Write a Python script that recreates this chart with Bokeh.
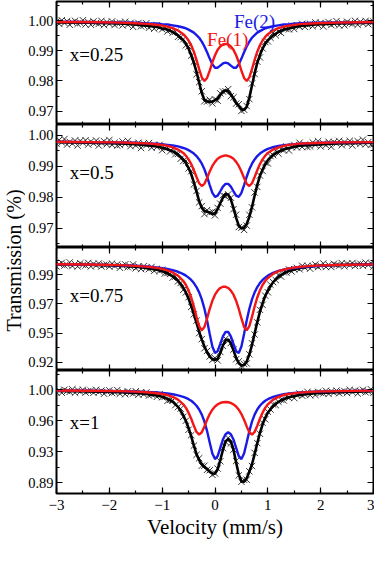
import math
from bokeh.plotting import figure
from bokeh.models import (Range1d, LinearAxis, FixedTicker, SingleIntervalTicker, Label,
                          CustomJSTickFormatter, GridBox)
from bokeh.embed import file_html
from bokeh.resources import INLINE

FONT = "Liberation Serif"

# ---------------- data ----------------
vel_fit = [-3.0, -2.4, -1.8, -1.5, -1.3, -1.1, -1.0, -0.9, -0.8, -0.7,
           -0.6, -0.55, -0.5, -0.45, -0.4, -0.35, -0.3, -0.25, -0.2, -0.15,
           -0.1, -0.05, 0.0, 0.05, 0.1, 0.15, 0.2, 0.25, 0.3, 0.35,
           0.4, 0.45, 0.5, 0.55, 0.6, 0.65, 0.7, 0.75, 0.8, 0.85,
           0.9, 0.95, 1.0, 1.1, 1.2, 1.3, 1.4, 1.6, 1.9, 2.3, 3.0]

vel_data = [-3.0, -2.95, -2.9, -2.85, -2.8, -2.75, -2.7, -2.65, -2.6, -2.55,
            -2.5, -2.45, -2.4, -2.35, -2.3, -2.25, -2.2, -2.15, -2.1, -2.05,
            -2.0, -1.95, -1.9, -1.85, -1.8, -1.75, -1.7, -1.65, -1.6, -1.55,
            -1.5, -1.45, -1.4, -1.35, -1.3, -1.25, -1.2, -1.15, -1.1, -1.05,
            -1.0, -0.95, -0.9, -0.85, -0.8, -0.75, -0.7, -0.65, -0.6, -0.55,
            -0.5, -0.45, -0.4, -0.35, -0.3, -0.25, -0.2, -0.15, -0.1, -0.05,
            0.0, 0.05, 0.1, 0.15, 0.2, 0.25, 0.3, 0.35, 0.4, 0.45,
            0.5, 0.55, 0.6, 0.65, 0.7, 0.75, 0.8, 0.85, 0.9, 0.95,
            1.0, 1.05, 1.1, 1.15, 1.2, 1.25, 1.3, 1.35, 1.4, 1.45,
            1.5, 1.55, 1.6, 1.65, 1.7, 1.75, 1.8, 1.85, 1.9, 1.95,
            2.0, 2.05, 2.1, 2.15, 2.2, 2.25, 2.3, 2.35, 2.4, 2.45,
            2.5, 2.55, 2.6, 2.65, 2.7, 2.75, 2.8, 2.85, 2.9, 2.95, 3.0]

# x = 0.25
fe1_x025 = [0.9995, 0.9995, 0.9993, 0.9991, 0.9989, 0.9986, 0.9983, 0.9980, 0.9975, 0.9967,
            0.9955, 0.9946, 0.9934, 0.9918, 0.9897, 0.9870, 0.9839, 0.9812, 0.9800, 0.9810,
            0.9834, 0.9862, 0.9885, 0.9903, 0.9914, 0.9921, 0.9923, 0.9921, 0.9914, 0.9903,
            0.9885, 0.9862, 0.9834, 0.9810, 0.9800, 0.9812, 0.9839, 0.9870, 0.9897, 0.9918,
            0.9934, 0.9946, 0.9955, 0.9967, 0.9975, 0.9980, 0.9983, 0.9988, 0.9991, 0.9993, 0.9995]
fe2_x025 = [0.9996, 0.9995, 0.9994, 0.9993, 0.9991, 0.9990, 0.9988, 0.9987, 0.9984, 0.9981,
            0.9977, 0.9974, 0.9970, 0.9965, 0.9960, 0.9952, 0.9943, 0.9930, 0.9914, 0.9895,
            0.9874, 0.9855, 0.9844, 0.9844, 0.9851, 0.9858, 0.9861, 0.9858, 0.9851, 0.9844,
            0.9844, 0.9855, 0.9874, 0.9895, 0.9914, 0.9930, 0.9943, 0.9952, 0.9960, 0.9965,
            0.9970, 0.9974, 0.9977, 0.9981, 0.9984, 0.9987, 0.9988, 0.9991, 0.9993, 0.9994, 0.9995]
fit_x025 = [0.9994, 0.9993, 0.9990, 0.9987, 0.9983, 0.9979, 0.9974, 0.9970, 0.9962, 0.9951,
            0.9935, 0.9923, 0.9907, 0.9886, 0.9860, 0.9830, 0.9795, 0.9760, 0.9737, 0.9733,
            0.9730, 0.9732, 0.9737, 0.9742, 0.9754, 0.9765, 0.9769, 0.9766, 0.9756, 0.9742,
            0.9727, 0.9717, 0.9706, 0.9704, 0.9714, 0.9745, 0.9785, 0.9825, 0.9860, 0.9886,
            0.9907, 0.9923, 0.9935, 0.9951, 0.9962, 0.9970, 0.9974, 0.9982, 0.9987, 0.9990, 0.9993]
obs_x025 = [0.9997, 0.9989, 1.0001, 0.9992, 0.9998, 0.9986, 0.9994, 0.9999, 0.9989, 0.9992,
            1.0001, 0.9987, 0.9995, 0.9986, 0.9997, 0.9992, 0.9989, 0.9999, 0.9985, 0.9995,
            0.9989, 0.9997, 0.9985, 0.9991, 0.9993, 0.9984, 0.9996, 0.9986, 0.9992, 0.9979,
            0.9988, 0.9992, 0.9981, 0.9983, 0.9991, 0.9976, 0.9983, 0.9973, 0.9984, 0.9977,
            0.9971, 0.9979, 0.9964, 0.9970, 0.9960, 0.9963, 0.9946, 0.9945, 0.9938, 0.9918,
            0.9914, 0.9884, 0.9864, 0.9822, 0.9796, 0.9766, 0.9733, 0.9732, 0.9738, 0.9726,
            0.9739, 0.9735, 0.9759, 0.9765, 0.9766, 0.9773, 0.9750, 0.9746, 0.9725, 0.9723,
            0.9701, 0.9705, 0.9717, 0.9740, 0.9792, 0.9823, 0.9864, 0.9878, 0.9908, 0.9929,
            0.9931, 0.9943, 0.9959, 0.9951, 0.9964, 0.9959, 0.9975, 0.9972, 0.9971, 0.9983,
            0.9972, 0.9984, 0.9980, 0.9989, 0.9979, 0.9986, 0.9989, 0.9981, 0.9994, 0.9985,
            0.9992, 0.9980, 0.9990, 0.9995, 0.9985, 0.9989, 0.9998, 0.9984, 0.9993, 0.9984,
            0.9996, 0.9991, 0.9989, 0.9999, 0.9986, 0.9996, 0.9990, 0.9999, 0.9988, 0.9994, 0.9996]

# x = 0.5
fe1_x05 = [0.9979, 0.9978, 0.9977, 0.9975, 0.9974, 0.9971, 0.9969, 0.9966, 0.9961, 0.9954,
           0.9943, 0.9934, 0.9922, 0.9907, 0.9887, 0.9865, 0.9845, 0.9836, 0.9843, 0.9862,
           0.9883, 0.9901, 0.9914, 0.9924, 0.9930, 0.9933, 0.9935, 0.9933, 0.9930, 0.9924,
           0.9914, 0.9901, 0.9883, 0.9862, 0.9843, 0.9836, 0.9845, 0.9865, 0.9887, 0.9907,
           0.9922, 0.9934, 0.9943, 0.9954, 0.9961, 0.9966, 0.9969, 0.9973, 0.9975, 0.9977, 0.9978]
fe2_x05 = [0.9979, 0.9978, 0.9977, 0.9976, 0.9974, 0.9973, 0.9971, 0.9969, 0.9967, 0.9964,
           0.9959, 0.9956, 0.9952, 0.9947, 0.9941, 0.9933, 0.9922, 0.9908, 0.9890, 0.9866,
           0.9839, 0.9814, 0.9801, 0.9805, 0.9819, 0.9834, 0.9843, 0.9843, 0.9834, 0.9819,
           0.9805, 0.9801, 0.9814, 0.9839, 0.9866, 0.9890, 0.9908, 0.9922, 0.9933, 0.9941,
           0.9947, 0.9952, 0.9956, 0.9962, 0.9966, 0.9968, 0.9970, 0.9973, 0.9975, 0.9977, 0.9978]
fit_x05 = [0.9978, 0.9976, 0.9974, 0.9971, 0.9968, 0.9964, 0.9960, 0.9955, 0.9948, 0.9938,
           0.9922, 0.9910, 0.9894, 0.9874, 0.9848, 0.9818, 0.9787, 0.9765, 0.9755, 0.9753,
           0.9750, 0.9745, 0.9747, 0.9761, 0.9781, 0.9799, 0.9810, 0.9808, 0.9792, 0.9765,
           0.9733, 0.9708, 0.9699, 0.9701, 0.9713, 0.9736, 0.9768, 0.9805, 0.9840, 0.9868,
           0.9889, 0.9906, 0.9919, 0.9936, 0.9947, 0.9954, 0.9959, 0.9966, 0.9970, 0.9974, 0.9976]
obs_x05 = [0.9973, 0.9985, 0.9977, 0.9988, 0.9970, 0.9979, 0.9973, 0.9983, 0.9967, 0.9982,
           0.9976, 0.9984, 0.9970, 0.9980, 0.9974, 0.9983, 0.9967, 0.9976, 0.9981, 0.9971,
           0.9985, 0.9969, 0.9976, 0.9967, 0.9969, 0.9980, 0.9972, 0.9982, 0.9965, 0.9973,
           0.9967, 0.9976, 0.9959, 0.9974, 0.9968, 0.9975, 0.9960, 0.9969, 0.9962, 0.9969,
           0.9952, 0.9959, 0.9961, 0.9948, 0.9958, 0.9939, 0.9940, 0.9924, 0.9917, 0.9917,
           0.9893, 0.9884, 0.9841, 0.9820, 0.9783, 0.9771, 0.9745, 0.9758, 0.9750, 0.9753,
           0.9741, 0.9765, 0.9779, 0.9806, 0.9802, 0.9809, 0.9798, 0.9761, 0.9743, 0.9703,
           0.9701, 0.9694, 0.9708, 0.9743, 0.9767, 0.9815, 0.9833, 0.9870, 0.9885, 0.9912,
           0.9909, 0.9933, 0.9936, 0.9950, 0.9941, 0.9955, 0.9952, 0.9964, 0.9951, 0.9962,
           0.9969, 0.9961, 0.9976, 0.9962, 0.9970, 0.9962, 0.9964, 0.9977, 0.9969, 0.9981,
           0.9964, 0.9974, 0.9968, 0.9979, 0.9963, 0.9978, 0.9974, 0.9982, 0.9968, 0.9978,
           0.9973, 0.9982, 0.9967, 0.9976, 0.9981, 0.9972, 0.9986, 0.9971, 0.9978, 0.9969, 0.9971]

# x = 0.75
fe1_x075 = [0.9981, 0.9979, 0.9974, 0.9968, 0.9963, 0.9953, 0.9945, 0.9934, 0.9918, 0.9893,
            0.9852, 0.9821, 0.9779, 0.9725, 0.9655, 0.9575, 0.9504, 0.9472, 0.9498, 0.9563,
            0.9637, 0.9699, 0.9746, 0.9778, 0.9798, 0.9807, 0.9807, 0.9798, 0.9778, 0.9746,
            0.9699, 0.9637, 0.9563, 0.9498, 0.9472, 0.9504, 0.9575, 0.9655, 0.9725, 0.9779,
            0.9821, 0.9852, 0.9875, 0.9907, 0.9927, 0.9940, 0.9949, 0.9961, 0.9970, 0.9975, 0.9980]
fe2_x075 = [0.9980, 0.9978, 0.9973, 0.9969, 0.9964, 0.9956, 0.9951, 0.9944, 0.9935, 0.9923,
            0.9905, 0.9893, 0.9878, 0.9860, 0.9836, 0.9805, 0.9764, 0.9710, 0.9638, 0.9548,
            0.9443, 0.9347, 0.9297, 0.9311, 0.9367, 0.9425, 0.9459, 0.9459, 0.9425, 0.9367,
            0.9311, 0.9297, 0.9347, 0.9443, 0.9548, 0.9638, 0.9710, 0.9764, 0.9805, 0.9836,
            0.9860, 0.9878, 0.9893, 0.9915, 0.9930, 0.9940, 0.9948, 0.9958, 0.9967, 0.9974, 0.9979]
fit_x075 = [0.9980, 0.9977, 0.9970, 0.9962, 0.9953, 0.9938, 0.9927, 0.9911, 0.9888, 0.9853,
            0.9800, 0.9762, 0.9715, 0.9660, 0.9597, 0.9530, 0.9462, 0.9400, 0.9347, 0.9303,
            0.9270, 0.9250, 0.9243, 0.9252, 0.9297, 0.9356, 0.9395, 0.9400, 0.9372, 0.9317,
            0.9259, 0.9218, 0.9201, 0.9205, 0.9232, 0.9285, 0.9360, 0.9447, 0.9535, 0.9614,
            0.9680, 0.9735, 0.9779, 0.9843, 0.9884, 0.9911, 0.9929, 0.9952, 0.9967, 0.9975, 0.9980]
obs_x075 = [0.9964, 0.9982, 0.9992, 0.9971, 0.9977, 0.9995, 0.9967, 0.9982, 0.9964, 0.9988,
            0.9977, 0.9971, 0.9991, 0.9964, 0.9984, 0.9971, 0.9987, 0.9964, 0.9976, 0.9979,
            0.9963, 0.9986, 0.9967, 0.9979, 0.9954, 0.9971, 0.9980, 0.9958, 0.9963, 0.9980,
            0.9950, 0.9964, 0.9944, 0.9966, 0.9953, 0.9944, 0.9960, 0.9930, 0.9946, 0.9929,
            0.9939, 0.9910, 0.9913, 0.9906, 0.9878, 0.9886, 0.9849, 0.9837, 0.9784, 0.9764,
            0.9727, 0.9652, 0.9595, 0.9546, 0.9450, 0.9404, 0.9333, 0.9313, 0.9270, 0.9244,
            0.9257, 0.9240, 0.9305, 0.9352, 0.9407, 0.9390, 0.9374, 0.9323, 0.9249, 0.9232,
            0.9197, 0.9213, 0.9216, 0.9287, 0.9372, 0.9439, 0.9533, 0.9630, 0.9668, 0.9739,
            0.9765, 0.9823, 0.9843, 0.9859, 0.9898, 0.9886, 0.9919, 0.9917, 0.9941, 0.9925,
            0.9943, 0.9953, 0.9942, 0.9969, 0.9954, 0.9969, 0.9947, 0.9967, 0.9979, 0.9960,
            0.9968, 0.9987, 0.9960, 0.9977, 0.9960, 0.9984, 0.9975, 0.9970, 0.9990, 0.9965,
            0.9985, 0.9974, 0.9990, 0.9968, 0.9981, 0.9985, 0.9969, 0.9993, 0.9976, 0.9988, 0.9964]

# x = 1
fe1_x1 = [0.9994, 0.9991, 0.9986, 0.9980, 0.9974, 0.9962, 0.9953, 0.9940, 0.9919, 0.9886,
          0.9830, 0.9788, 0.9731, 0.9659, 0.9576, 0.9503, 0.9471, 0.9499, 0.9568, 0.9647,
          0.9715, 0.9766, 0.9804, 0.9829, 0.9846, 0.9855, 0.9858, 0.9855, 0.9846, 0.9829,
          0.9804, 0.9766, 0.9715, 0.9647, 0.9568, 0.9499, 0.9471, 0.9503, 0.9576, 0.9659,
          0.9731, 0.9788, 0.9830, 0.9886, 0.9919, 0.9940, 0.9953, 0.9969, 0.9980, 0.9987, 0.9992]
fe2_x1 = [0.9993, 0.9991, 0.9986, 0.9982, 0.9977, 0.9970, 0.9965, 0.9958, 0.9949, 0.9936,
          0.9918, 0.9906, 0.9891, 0.9872, 0.9846, 0.9813, 0.9769, 0.9708, 0.9625, 0.9513,
          0.9377, 0.9247, 0.9181, 0.9216, 0.9314, 0.9412, 0.9476, 0.9498, 0.9476, 0.9412,
          0.9314, 0.9216, 0.9181, 0.9247, 0.9377, 0.9513, 0.9625, 0.9708, 0.9769, 0.9813,
          0.9846, 0.9872, 0.9891, 0.9918, 0.9936, 0.9949, 0.9958, 0.9970, 0.9980, 0.9986, 0.9992]
fit_x1 = [0.9989, 0.9984, 0.9974, 0.9964, 0.9953, 0.9934, 0.9920, 0.9895, 0.9860, 0.9800,
          0.9700, 0.9630, 0.9550, 0.9450, 0.9340, 0.9240, 0.9170, 0.9120, 0.9090, 0.9060,
          0.9030, 0.9010, 0.9008, 0.9060, 0.9170, 0.9290, 0.9390, 0.9420, 0.9390, 0.9290,
          0.9140, 0.9000, 0.8915, 0.8912, 0.8955, 0.9030, 0.9120, 0.9240, 0.9370, 0.9490,
          0.9590, 0.9670, 0.9730, 0.9810, 0.9858, 0.9891, 0.9913, 0.9941, 0.9962, 0.9975, 0.9986]
obs_x1 = [0.9971, 0.9995, 0.9967, 1.0003, 0.9988, 0.9978, 1.0008, 0.9968, 0.9998, 0.9979,
          1.0003, 0.9969, 0.9987, 0.9992, 0.9967, 1.0002, 0.9975, 0.9992, 0.9955, 0.9981,
          0.9995, 0.9964, 0.9973, 0.9999, 0.9956, 0.9978, 0.9950, 0.9984, 0.9968, 0.9957,
          0.9985, 0.9944, 0.9971, 0.9950, 0.9971, 0.9934, 0.9947, 0.9949, 0.9919, 0.9949,
          0.9914, 0.9921, 0.9871, 0.9883, 0.9878, 0.9821, 0.9797, 0.9779, 0.9682, 0.9636,
          0.9529, 0.9465, 0.9340, 0.9231, 0.9191, 0.9102, 0.9102, 0.9054, 0.9048, 0.8995,
          0.9011, 0.9069, 0.9155, 0.9311, 0.9384, 0.9432, 0.9366, 0.9293, 0.9158, 0.8988,
          0.8912, 0.8936, 0.8937, 0.9036, 0.9099, 0.9255, 0.9370, 0.9481, 0.9611, 0.9652,
          0.9742, 0.9769, 0.9828, 0.9821, 0.9861, 0.9885, 0.9876, 0.9924, 0.9907, 0.9933,
          0.9904, 0.9938, 0.9959, 0.9933, 0.9947, 0.9978, 0.9939, 0.9966, 0.9941, 0.9979,
          0.9966, 0.9959, 0.9991, 0.9953, 0.9985, 0.9968, 0.9993, 0.9961, 0.9980, 0.9987,
          0.9964, 1.0001, 0.9975, 0.9994, 0.9958, 0.9986, 1.0002, 0.9972, 0.9982, 1.0009, 0.9968]

panel_names = ["x=0.25", "x=0.5", "x=0.75", "x=1"]
y_ranges = [(0.9656, 1.0063), (0.9637, 1.0035), (0.9162, 1.0110), (0.8773, 1.0231)]
y_ticks = [[0.97, 0.98, 0.99, 1.0],
           [0.97, 0.98, 0.99, 1.0],
           [0.9225, 0.945, 0.9675, 0.99],
           [0.89, 0.92667, 0.96333, 1.0]]
y_tick_labels = [["0.97", "0.98", "0.99", "1.00"],
                 ["0.97", "0.98", "0.99", "1.00"],
                 ["0.92", "0.95", "0.97", "0.99"],
                 ["0.89", "0.93", "0.96", "1.00"]]
y_minor = [[0.965, 0.975, 0.985, 0.995, 1.005],
           [0.965, 0.975, 0.985, 0.995],
           [0.93375, 0.95625, 0.97875, 1.00125],
           [0.90833, 0.945, 0.98167, 1.01833]]
label_y = [0.9886, 0.9881, 0.9738, 0.9618]

fe1_sets = [fe1_x025, fe1_x05, fe1_x075, fe1_x1]
fe2_sets = [fe2_x025, fe2_x05, fe2_x075, fe2_x1]
fit_sets = [fit_x025, fit_x05, fit_x075, fit_x1]
obs_sets = [obs_x025, obs_x05, obs_x075, obs_x1]

RED = "#f21616"
BLUE = "#1a1ae6"


def style_axis(ax, labels):
    ax.axis_line_color = None
    ax.major_tick_in = 6
    ax.major_tick_out = 0
    ax.minor_tick_in = 3
    ax.minor_tick_out = 0
    ax.major_tick_line_color = "black"
    ax.minor_tick_line_color = "black"
    ax.major_tick_line_width = 1.2
    ax.minor_tick_line_width = 1.2
    if labels:
        ax.major_label_text_font = FONT
        ax.major_label_text_font_size = "14.5px"
        ax.major_label_text_color = "black"
        ax.major_label_standoff = 4
    else:
        ax.formatter = CustomJSTickFormatter(code="return ''")
        ax.major_label_text_font_size = "0px"
        ax.major_label_standoff = 0


FRAME_H = 123
BOTTOM = 48
LEFT = 29
PANEL_W = 349
LAB_W = 25
heights = [FRAME_H + 1, FRAME_H, FRAME_H, FRAME_H + BOTTOM]
panels = []
for k in range(4):
    first = k == 0
    last = k == 3
    y0, y1 = y_ranges[k]
    p = figure(width=PANEL_W, height=heights[k], output_backend="svg", toolbar_location=None,
               x_range=Range1d(-3, 3), y_range=Range1d(y0, y1),
               min_border_left=LEFT, min_border_right=1,
               min_border_top=1 if first else 0,
               min_border_bottom=BOTTOM if last else 0)
    p.xgrid.visible = False
    p.ygrid.visible = False
    p.outline_line_color = "black"
    p.outline_line_width = 2
    p.background_fill_color = "white"
    p.border_fill_color = "white"

    xa = p.xaxis[0]
    xa.ticker = SingleIntervalTicker(interval=1, num_minor_ticks=2)
    style_axis(xa, last)
    if last:
        xa.axis_label = "Velocity (mm/s)"
        xa.axis_label_text_font = FONT
        xa.axis_label_text_font_size = "21px"
        xa.axis_label_text_font_style = "normal"
        xa.axis_label_text_color = "black"
        xa.axis_label_standoff = 2
        xa.major_label_standoff = 6
        xa.major_label_text_font_size = "15px"
    else:
        xa.fixed_location = y0

    ya = p.yaxis[0]
    ya.ticker = FixedTicker(ticks=y_ticks[k], minor_ticks=y_minor[k])
    style_axis(ya, True)
    ya.major_label_standoff = 3
    ya.major_label_overrides = {t: s for t, s in zip(y_ticks[k], y_tick_labels[k])}

    top = LinearAxis(ticker=SingleIntervalTicker(interval=1, num_minor_ticks=2), fixed_location=y1)
    style_axis(top, False)
    p.add_layout(top, "above")
    right = LinearAxis(ticker=FixedTicker(ticks=y_ticks[k], minor_ticks=y_minor[k]), fixed_location=3)
    style_axis(right, False)
    p.add_layout(right, "right")

    p.scatter(vel_data, obs_sets[k], marker="x", size=9, line_color="#1e1e1e",
              line_width=1.0, line_alpha=0.9)
    p.line(vel_fit, fit_sets[k], line_color="black", line_width=2.6)
    p.line(vel_fit, fe2_sets[k], line_color=BLUE, line_width=2.4)
    p.line(vel_fit, fe1_sets[k], line_color=RED, line_width=2.4)

    p.add_layout(Label(x=-2.75, y=label_y[k], text=panel_names[k], text_font=FONT,
                       text_font_size="19px", text_color="black",
                       text_baseline="alphabetic", text_align="left"))
    if first:
        p.add_layout(Label(x=0.36, y=0.9997, text="Fe(2)", text_font=FONT,
                           text_font_size="19px", text_color=BLUE,
                           text_baseline="alphabetic", text_align="left"))
        p.add_layout(Label(x=-0.15, y=0.99387, text="Fe(1)", text_font=FONT,
                           text_font_size="19px", text_color=RED,
                           text_baseline="alphabetic", text_align="left"))
    panels.append(p)

total_h = sum(heights)
lab = figure(width=LAB_W, height=total_h, output_backend="svg", toolbar_location=None,
             x_range=Range1d(0, LAB_W), y_range=Range1d(0, 1),
             x_axis_type=None, y_axis_type=None, min_border=0)
lab.outline_line_color = None
lab.grid.visible = False
lab.add_layout(Label(x=13.5, y=0.4736, text="Transmission (%)", angle=math.pi / 2,
                     text_font=FONT, text_font_size="20px", text_color="black",
                     text_align="center", text_baseline="middle"))

layout = GridBox(children=[(lab, 0, 0, 4, 1), (panels[0], 0, 1), (panels[1], 1, 1),
                           (panels[2], 2, 1), (panels[3], 3, 1)], spacing=0)

open("out.html", "w").write(file_html(layout, INLINE))
